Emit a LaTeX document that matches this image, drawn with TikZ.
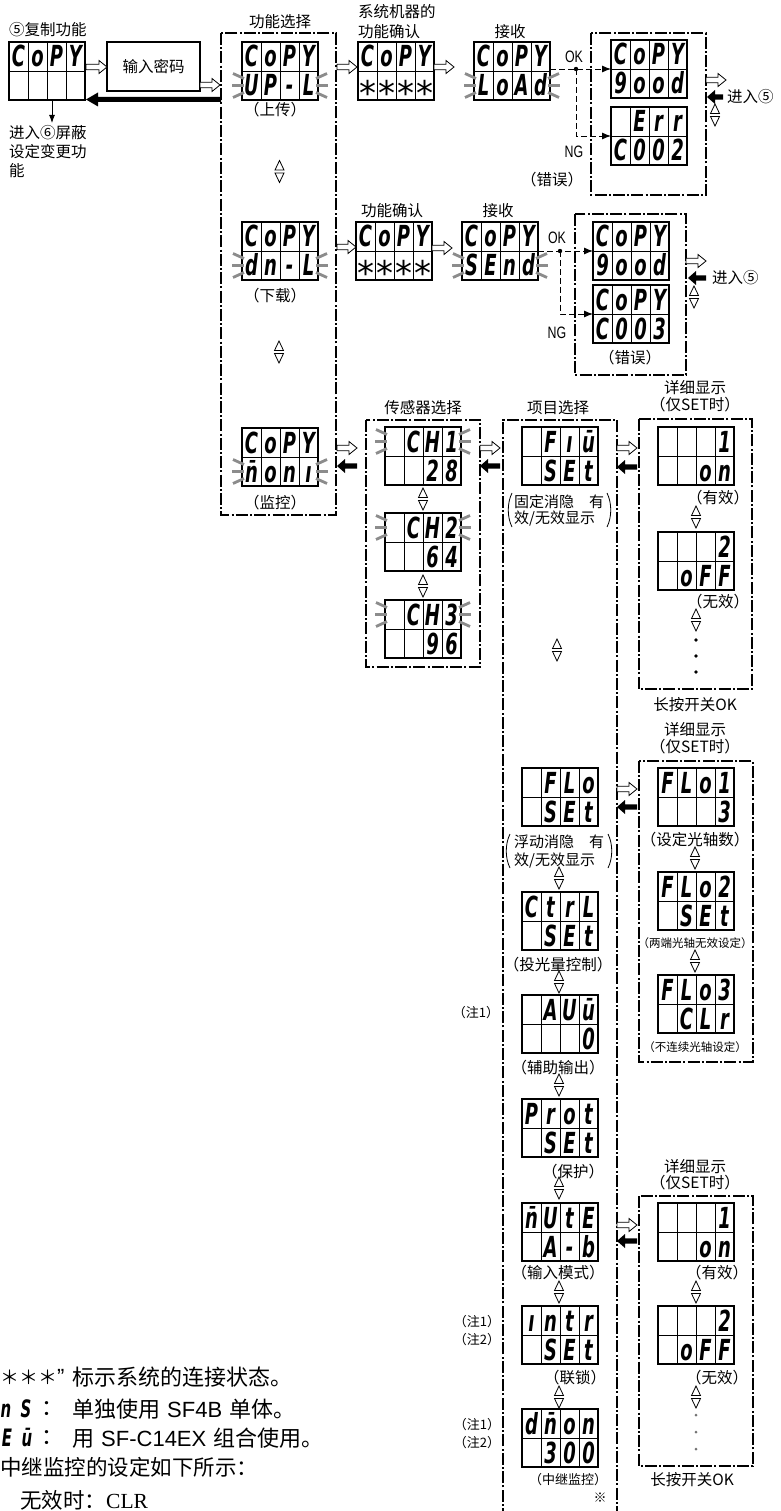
\documentclass[tikz,border=0pt]{standalone}
\usepackage{fontspec}
\usepackage{graphicx}
\setmainfont{Noto Sans CJK SC}
\newfontfamily\segfont[FakeStretch=0.62]{DejaVu Sans}
\newfontfamily\astfont{DejaVu Sans}
\newfontfamily\arialf{Liberation Sans}
\newfontfamily\serifl{Liberation Serif}
\usetikzlibrary{arrows.meta}

\tikzset{
  disp/.style={draw, line width=1.2pt, minimum width=76pt, minimum height=58pt, inner sep=0pt, outer sep=0pt},
  cellgrid/.style={line width=0.9pt},
  seg/.style={anchor=base, inner sep=0pt, font=\segfont\bfseries\itshape\fontsize{29}{29}\selectfont},
  segsm/.style={anchor=base, inner sep=0pt, font=\segfont\bfseries\itshape\fontsize{24}{24}\selectfont},
  ray/.style={line width=2.8pt, draw=black!45},
  dbox/.style={line width=1.1pt, dash pattern=on 12pt off 2.2pt on 2pt off 2.2pt},
  okline/.style={line width=0.9pt, dash pattern=on 6pt off 3pt},
  tipl/.style={-{Latex[length=9pt,width=7pt]}},
  lbl/.style={inner sep=0pt, font=\fontsize{15.5}{18}\selectfont},
  plbl/.style={inner sep=0pt, anchor=west, font=\fontsize{15}{18}\selectfont},
  slbl/.style={inner sep=0pt, font=\fontsize{11.5}{14}\selectfont},
  nlbl/.style={inner sep=0pt, font=\fontsize{13}{15}\selectfont},
  oklbl/.style={inner sep=0pt, font=\arialf\fontsize{16.5}{17}\selectfont},
  big/.style={inner sep=0pt, font=\fontsize{22}{25}\selectfont},
  harr/.style={draw, fill=white, line width=0.8pt, line join=miter},
  udsty/.style={line width=0.8pt},
  paren/.style={line width=0.8pt},
  pwbox/.style={draw, line width=1.1pt, minimum width=93pt, minimum height=49pt, inner sep=0pt, font=\fontsize{15.5}{18}\selectfont},
}

\newcommand\AST{{\astfont\mdseries\upshape\fontsize{34}{34}\selectfont\raisebox{-10pt}{*}}}

\newcommand\segrow[7]{%
  \node[seg] (#1a) at ({#2+9.5},{#3}) {#4};
  \node[seg] (#1b) at ({#2+28.5},{#3}) {#5};
  \node[seg] (#1c) at ({#2+47.5},{#3}) {#6};
  \node[seg] (#1d) at ({#2+66.5},{#3}) {#7};
}
\newcommand\disp[5]{%
  \node[disp] (#1) at ({#2+38},{#3+29}) {};
  \draw[cellgrid] ({#2},{#3+29}) -- ({#2+76},{#3+29});
  \foreach \k in {1,2,3}{\draw[cellgrid] ({#2+19*\k},{#3}) -- ({#2+19*\k},{#3+58});}
  \segrow{#1t}{#2}{#3+25}#4%
  \segrow{#1u}{#2}{#3+54}#5%
}
\newcommand\blink[2]{%
  \draw[ray] ({#1+2},{#2}) -- ({#1-10},{#2});
  \draw[ray] ({#1+2},{#2-7}) -- ({#1-9},{#2-12});
  \draw[ray] ({#1+2},{#2+7}) -- ({#1-9},{#2+12});
  \draw[ray] ({#1+74},{#2}) -- ({#1+86},{#2});
  \draw[ray] ({#1+74},{#2-7}) -- ({#1+85},{#2-12});
  \draw[ray] ({#1+74},{#2+7}) -- ({#1+85},{#2+12});
}
\newcommand\harrR[3]{%
  \draw[harr] ({#1},{#3-2.8}) -- ({#2-8},{#3-2.8}) -- ({#2-8},{#3-6.5}) -- ({#2},{#3})
    -- ({#2-8},{#3+6.5}) -- ({#2-8},{#3+2.8}) -- ({#1},{#3+2.8}) -- cycle;
}
\newcommand\barrL[3]{%
  \fill ({#1},{#3-2.6}) -- ({#2+8},{#3-2.6}) -- ({#2+8},{#3-7}) -- ({#2},{#3})
    -- ({#2+8},{#3+7}) -- ({#2+8},{#3+2.6}) -- ({#1},{#3+2.6}) -- cycle;
}
\newcommand\ud[2]{%
  \draw[udsty] ({#1-4.5},{#2-1.5}) -- ({#1+4.5},{#2-1.5}) -- ({#1},{#2-11}) -- cycle;
  \draw[udsty] ({#1-4.5},{#2+1.5}) -- ({#1+4.5},{#2+1.5}) -- ({#1},{#2+11}) -- cycle;
}
\newcommand\bigparens[3]{% left x, right x, top y (height 34)
  \draw[paren] ({#1},{#3}) .. controls ({#1-5},{#3+10}) and ({#1-5},{#3+24}) .. ({#1},{#3+34});
  \draw[paren] ({#2},{#3}) .. controls ({#2+5},{#3+10}) and ({#2+5},{#3+24}) .. ({#2},{#3+34});
}

\begin{document}
\begin{tikzpicture}[x=1pt,y=-1pt]
\useasboundingbox (0,0) rectangle (780,1511);
\fill[white] (0,0) rectangle (780,1511);

% ---------- copy function start ----------
\node[lbl, anchor=west] (tcopy) at (9,30) {⑤复制功能};
\disp{D0}{9}{42}{{C}{o}{P}{Y}}{{}{}{}{}}
\node[pwbox] (pw) at (153.5,66.5) {输入密码};
\harrR{86}{107}{67}
\harrR{200}{220}{85}
\fill (221,97) -- (98,97) -- (98,92.5) -- (86,99.5) -- (98,106.5) -- (98,102) -- (221,102) -- cycle;
\coordinate (dn) at (52,123);
\draw[line width=0.9pt, -{Latex[length=8pt,width=6pt]}] (D0.south -| dn) -- (dn);
\node[lbl, anchor=west] (tgo6a) at (9,133) {进入⑥屏蔽};
\node[lbl, anchor=west] (tgo6b) at (9,152) {设定变更功};
\node[lbl, anchor=west] (tgo6c) at (9,171) {能};

% ---------- function select ----------
\draw[dbox] (221,33) rectangle (336,515);
\node[lbl] (tfsel) at (280,22) {功能选择};
\disp{F1}{242}{42}{{C}{o}{P}{Y}}{{U}{P}{-}{L}}
\blink{242}{85.5}
\node[lbl] (tup) at (275,110) {（上传）};
\ud{279.5}{171.5}
\disp{F2}{242}{222}{{C}{o}{P}{Y}}{{d}{n}{-}{L}}
\blink{242}{265.5}
\node[lbl] (tdown) at (275,296) {（下载）};
\ud{279}{352}
\disp{F3}{242}{428}{{C}{o}{P}{Y}}{{n̄}{o}{n}{ı}}
\blink{242}{471.5}
\node[lbl] (tmon) at (275,503) {（监控）};

% ---------- upload row ----------
\node[lbl, anchor=west] (tsys1) at (358,12) {系统机器的};
\node[lbl, anchor=west] (tsys2) at (358,32) {功能确认};
\harrR{337}{357}{67}
\disp{C1}{358}{42}{{C}{o}{P}{Y}}{{\AST}{\AST}{\AST}{\AST}}
\harrR{434}{454}{67}
\node[lbl] (trcv1) at (510,32) {接收};
\disp{R1}{474}{42}{{C}{o}{P}{Y}}{{L}{o}{A}{d}}
\blink{474}{85.5}
\draw[dbox] (591,33) rectangle (706,195);
\disp{G1}{611}{40}{{C}{o}{P}{Y}}{{9}{o}{o}{d}}
\disp{E1}{611}{107}{{}{E}{r}{r}}{{C}{0}{0}{2}}
\coordinate (j1) at (576,69);
\draw[okline, tipl] (R1.east |- G1.west) -- (G1.west);
\draw[okline, tipl] (j1) |- (E1.west);
\fill (j1) circle (2.2);
\node[oklbl] (tok1) at (574,57) {\scalebox{0.75}[1]{OK}};
\node[oklbl] (tng1) at (574,152) {\scalebox{0.75}[1]{NG}};
\node[lbl] (terr1) at (552,180) {（错误）};
\harrR{706}{726}{80}
\barrL{723}{707}{97}
\node[lbl, anchor=west] (tgo5a) at (727,97) {进入⑤};
\ud{715}{115}

% ---------- download row ----------
\node[lbl] (tconf2) at (392,211) {功能确认};
\harrR{337}{356}{247}
\disp{C2}{356}{222}{{C}{o}{P}{Y}}{{\AST}{\AST}{\AST}{\AST}}
\harrR{432}{452}{248}
\node[lbl] (trcv2) at (498,211) {接收};
\disp{R2}{462}{222}{{C}{o}{P}{Y}}{{S}{E}{n}{d}}
\blink{462}{265.5}
\draw[dbox] (575,214) rectangle (686,375);
\disp{G2}{593}{222}{{C}{o}{P}{Y}}{{9}{o}{o}{d}}
\disp{E2}{593}{285}{{C}{o}{P}{Y}}{{C}{0}{0}{3}}
\coordinate (j2) at (560,251);
\draw[okline, tipl] (R2.east) -- (G2.west);
\draw[okline, tipl] (j2) |- (E2.west);
\fill (j2) circle (2.2);
\node[oklbl] (tok2) at (557,238) {\scalebox{0.75}[1]{OK}};
\node[oklbl] (tng2) at (557,333) {\scalebox{0.75}[1]{NG}};
\node[lbl] (terr2) at (630,358) {（错误）};
\harrR{686}{706}{261}
\barrL{706}{688}{278}
\node[lbl, anchor=west] (tgo5b) at (712,278) {进入⑤};
\ud{694}{297}

% ---------- monitor: sensor select ----------
\harrR{337}{357}{448}
\barrL{357}{337}{466}
\node[lbl] (tssel) at (423,408) {传感器选择};
\draw[dbox] (366,420) rectangle (480,667);
\disp{S1}{385}{427}{{}{C}{H}{1}}{{}{}{2}{8}}
\blink{385}{441.5}
\ud{423}{499}
\disp{S2}{385}{513}{{}{C}{H}{2}}{{}{}{6}{4}}
\blink{385}{527.5}
\ud{423}{586}
\disp{S3}{385}{600}{{}{C}{H}{3}}{{}{}{9}{6}}
\blink{385}{614.5}
\harrR{480}{500}{448}
\barrL{500}{480}{466}

% ---------- item select ----------
\node[lbl] (tisel) at (558,408) {项目选择};
\draw[dbox] (503,1520) |- (617,420) -- (617,1520);
\disp{I1}{522}{427}{{}{F}{ı}{ū}}{{}{S}{E}{t}}
\node[plbl] (tfix1) at (514,502) {固定消隐　有};
\node[plbl] (tfix2) at (514,519) {效/无效显示};
\bigparens{512}{607}{493}
\ud{557}{650}

\disp{I2}{522}{768}{{}{F}{L}{o}}{{}{S}{E}{t}}
\node[plbl] (tflo1) at (514,842) {浮动消隐　有};
\node[plbl] (tflo2) at (514,861) {效/无效显示};
\bigparens{510}{608}{834}
\ud{559}{878}
\disp{I3}{522}{892}{{C}{t}{r}{L}}{{}{S}{E}{t}}
\node[lbl] (tctrl) at (558,965) {（投光量控制）};
\ud{559}{982}
\disp{I4}{522}{995}{{}{A}{U}{ū}}{{}{}{}{0}}
\node[nlbl] (tn1a) at (476,1013) {（注1）};
\node[lbl] (taux) at (558,1068) {（辅助输出）};
\ud{559}{1085}
\disp{I5}{522}{1099}{{P}{r}{o}{t}}{{}{S}{E}{t}}
\node[lbl] (tprot) at (573,1172) {（保护）};
\ud{559}{1188}
\disp{I6}{522}{1203}{{n̄}{U}{t}{E}}{{}{A}{-}{b}}
\node[lbl] (tmode) at (558,1273) {（输入模式）};
\ud{559}{1292}
\disp{I7}{522}{1306}{{ı}{n}{t}{r}}{{}{S}{E}{t}}
\node[nlbl] (tn1b) at (477,1322) {（注1）};
\node[nlbl] (tn2b) at (477,1340) {（注2）};
\node[lbl] (tintr) at (575,1378) {（联锁）};
\ud{559}{1397}
\disp{I8}{522}{1409}{{d}{n̄}{o}{n}}{{}{3}{0}{0}}
\node[nlbl] (tn1c) at (477,1425) {（注1）};
\node[nlbl] (tn2c) at (477,1443) {（注2）};
\node[nlbl] (trelay) at (568,1480) {（中继监控）};
\node[nlbl] (tmark) at (600,1498) {※};

% ---------- detail 1 ----------
\harrR{617}{637}{448}
\barrL{637}{617}{467}
\node[lbl] (td1a) at (695,388) {详细显示};
\node[lbl] (td1b) at (695,405) {（仅SET时）};
\draw[dbox] (639,419) rectangle (752,689);
\disp{A1}{658}{427}{{}{}{}{1}}{{}{}{o}{n}}
\node[lbl] (ton1) at (718,498) {（有效）};
\ud{696}{517}
\disp{A2}{658}{532}{{}{}{}{2}}{{}{o}{F}{F}}
\node[lbl] (toff1) at (718,602) {（无效）};
\ud{696}{620}
\fill (696,640) circle (1.8) (696,656) circle (1.8) (696,672) circle (1.8);
\node[lbl] (tlong1) at (695,705) {长按开关OK};

% ---------- detail 2 ----------
\harrR{617}{637}{789}
\barrL{637}{617}{807}
\node[lbl] (td2a) at (695,730) {详细显示};
\node[lbl] (td2b) at (695,747) {（仅SET时）};
\draw[dbox] (639,761) rectangle (753,1062);
\disp{B1}{658}{768}{{F}{L}{o}{1}}{{}{}{}{3}}
\node[lbl] (tbeam) at (695,840) {（设定光轴数）};
\ud{695}{858}
\disp{B2}{658}{872}{{F}{L}{o}{2}}{{}{S}{E}{t}}
\node[slbl] (tends) at (695,943) {（两端光轴无效设定）};
\ud{695}{961}
\disp{B3}{658}{975}{{F}{L}{o}{3}}{{}{C}{L}{r}}
\node[slbl] (tdisc) at (695,1047) {（不连续光轴设定）};

% ---------- detail 3 ----------
\harrR{617}{637}{1225}
\barrL{637}{617}{1241}
\node[lbl] (td3a) at (695,1167) {详细显示};
\node[lbl] (td3b) at (695,1183) {（仅SET时）};
\draw[dbox] (639,1196) rectangle (753,1466);
\disp{M1}{658}{1203}{{}{}{}{1}}{{}{}{o}{n}}
\node[lbl] (ton3) at (717,1273) {（有效）};
\ud{696}{1292}
\disp{M2}{658}{1306}{{}{}{}{2}}{{}{o}{F}{F}}
\node[lbl] (toff3) at (717,1378) {（无效）};
\ud{696}{1397}
\fill[black!55] (696,1415) circle (1.5) (696,1432) circle (1.5) (696,1449) circle (1.5);
\node[lbl] (tlong3) at (692,1480) {长按开关OK};

% ---------- notes bottom left ----------
\node[big, anchor=west] (nstar) at (0,1377) {{\fontsize{19}{21}\selectfont ＊＊＊}{\arialf ”}};
\node[big, anchor=west] (nl1) at (72,1377) {标示系统的连接状态。};
\node[segsm] (nseg1) at (6,1417) {n};
\node[segsm] (nseg2) at (26,1417) {S};
\node[big] (ncol1) at (52,1409) {：};
\node[big, anchor=west] (nl2) at (72,1409) {单独使用\hspace{7pt}{\arialf SF4B}\hspace{7pt}单体。};
\node[segsm] (nseg3) at (7,1446) {E};
\node[segsm] (nseg4) at (27,1446) {ū};
\node[big] (ncol2) at (52,1438) {：};
\node[big, anchor=west] (nl3) at (72,1438) {用\hspace{7pt}{\arialf SF-C14EX}\hspace{7pt}组合使用。};
\node[big, anchor=west, font=\fontsize{21.5}{24}\selectfont] (nl4) at (0,1467) {中继监控的设定如下所示：};
\node[big, anchor=west, font=\fontsize{21.5}{24}\selectfont] (nl5) at (20,1500) {无效时：{\serifl CLR}};
\end{tikzpicture}
\end{document}
